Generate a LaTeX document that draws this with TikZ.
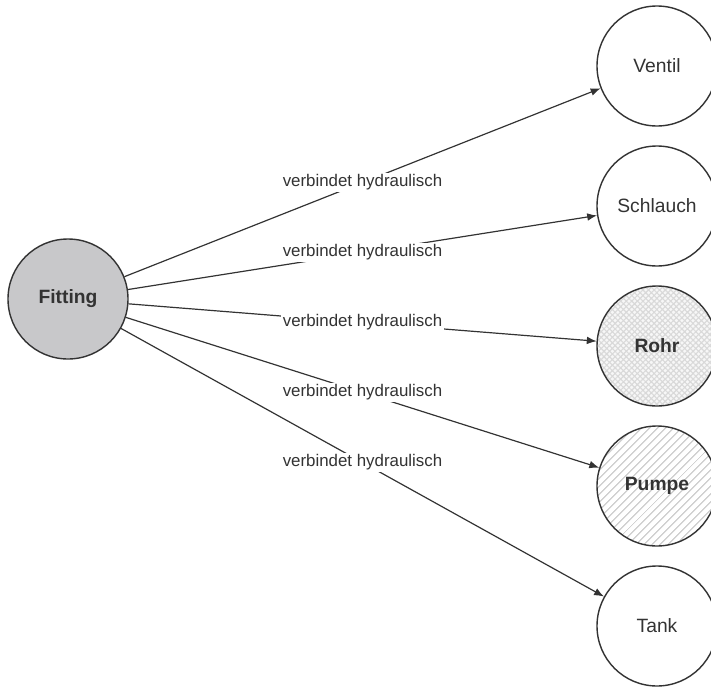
\documentclass[tikz,border=0pt]{standalone}
\usepackage{fontspec}
\setmainfont{Liberation Sans}
\usetikzlibrary{arrows.meta,patterns.meta}
\definecolor{linegray}{HTML}{333333}
\definecolor{fitgray}{HTML}{C8C8CA}

\begin{document}
\begin{tikzpicture}[
    part/.style={circle, draw=linegray, line width=1pt, minimum size=3cm, inner sep=0pt,
      text=linegray, font=\fontsize{13.7}{16}\selectfont},
    boldpart/.style={part, font=\fontsize{13.7}{16}\selectfont\bfseries},
    link/.style={-{Latex[length=7pt,width=5.5pt]}, draw=linegray, line width=0.85pt},
    lbl/.style={fill=white, inner sep=1pt, text=linegray, font=\fontsize{12}{14}\selectfont}]
  \useasboundingbox (0,0) rectangle (17.775,-17.2);

  % Fitting on the left
  \node[boldpart, fill=fitgray] (fitting) at (1.7,-7.475) {Fitting};

  % Parts on the right
  \node[part] (ventil) at (16.425,-1.65) {Ventil};
  \node[part] (schlauch) at (16.425,-5.15) {Schlauch};
  \node[boldpart, preaction={fill=gray!6},
    pattern={Hatch[angle=45,distance=2.8pt,line width=0.8pt]}, pattern color=gray!30] (rohr) at (16.425,-8.65) {Rohr};
  \node[boldpart,
    pattern={Lines[angle=45,distance=4pt,line width=1pt]}, pattern color=gray!35] (pumpe) at (16.425,-12.15) {Pumpe};
  \node[part] (tank) at (16.425,-15.65) {Tank};

  % Connections
  \draw[link] (fitting) -- node[lbl] {verbindet hydraulisch} (ventil);
  \draw[link] (fitting) -- node[lbl] {verbindet hydraulisch} (schlauch);
  \draw[link] (fitting) -- node[lbl] {verbindet hydraulisch} (rohr);
  \draw[link] (fitting) -- node[lbl] {verbindet hydraulisch} (pumpe);
  \draw[link] (fitting) -- node[lbl] {verbindet hydraulisch} (tank);
\end{tikzpicture}
\end{document}
